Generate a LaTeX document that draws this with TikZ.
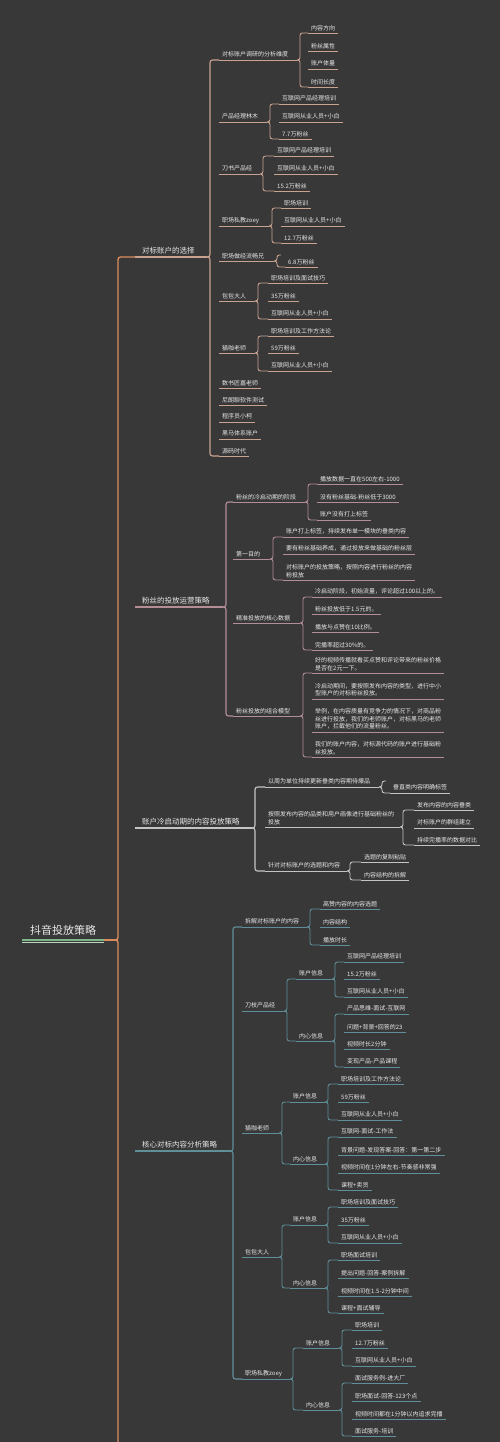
\documentclass[tikz,border=0pt]{standalone}
\usepackage{fontspec}
\newfontfamily\cjk{Noto Sans CJK SC}
\definecolor{bg}{HTML}{383838}
\definecolor{txt}{HTML}{E8E8E8}
\definecolor{cA}{HTML}{C9A290}
\definecolor{cB}{HTML}{B38E97}
\definecolor{cC}{HTML}{C4C4C4}
\definecolor{cD}{HTML}{5F8F99}
\definecolor{cM}{HTML}{D98B5E}
\definecolor{cR}{HTML}{7DB88A}
\tikzset{
 lf/.style={anchor=south west, inner xsep=3pt, inner ysep=2.3pt, text=txt, font=\cjk\fontsize{6}{7.8}\selectfont, align=left},
 topic/.style={lf, inner xsep=7pt, inner ysep=3pt, font=\cjk\fontsize{7.5}{9}\selectfont},
 rootnode/.style={lf, inner xsep=8pt, inner ysep=4pt, font=\cjk\fontsize{11}{13}\selectfont},
 ul/.style={draw=#1, line width=0.9pt},
 tul/.style={draw=#1, line width=2pt},
 br/.style={draw=#1, line width=0.9pt, rounded corners=2.5pt},
 emptyend/.style={inner sep=0pt, anchor=south west},
}
% leaf: [style]{name}{x}{y}{colour}{text}
\newcommand\T[6][lf]{\node[#1] (#2) at (#3,#4) {#6};\draw[ul=#5] (#2.south west) -- (#2.south east);}
% topic: {name}{x}{y}{colour}{text}
\newcommand\TT[5]{\node[topic] (#1) at (#2,#3) {#5};\draw[tul=#4] (#1.south west) -- (#1.south east);}
% brace: [extra]{colour}{xb}{ym}{parent}{first}{last}
\newcommand\B[7][]{%
 \draw[br=#2,#1] (#6.south west) -| (#3,#4) -- (#3-3,#4);
 \draw[br=#2,#1] (#7.south west) -| (#3,#4) -- (#3-3,#4);
 \draw[ul=#2,#1] (#5.south east) -- (#3-3,#4);}
\begin{document}
\begin{tikzpicture}[x=1pt,y=-1pt]
\fill[bg] (0,0) rectangle (500,1442);
\clip (0,0) rectangle (500,1442);

% ---------- root ----------
\node[rootnode] (root) at (22,940) {抖音投放策略};
\draw[draw=cR, line width=1.3pt] (root.south west) -- (root.south east);
\draw[draw=cR!55!white, line width=0.9pt] ([yshift=-2.5pt]root.south west) -- ([yshift=-2.5pt]root.south east);
\node[emptyend] (mbot) at (121,1480) {};

% ---------- branch 1 ----------
\TT{b1}{135}{257}{cA}{对标账户的选择}
\T{a1}{219}{60}{cA}{对标账户调研的分析维度}
\T{a1a}{308}{33}{cA}{内容方向}
\T{a1b}{308}{51}{cA}{粉丝属性}
\T{a1c}{308}{69}{cA}{账户体量}
\T{a1d}{308}{87}{cA}{时间长度}
\B{cA}{300}{60}{a1}{a1a}{a1d}
\T{a2}{219}{122}{cA}{产品经理林木}
\T{a2a}{279}{104}{cA}{互联网产品经理培训}
\T{a2b}{279}{122}{cA}{互联网从业人员+小白}
\T{a2c}{279}{139}{cA}{7.7万粉丝}
\B{cA}{270}{122}{a2}{a2a}{a2c}
\T{a3}{219}{174}{cA}{刀书产品经}
\T{a3a}{274}{156}{cA}{互联网产品经理培训}
\T{a3b}{274}{174}{cA}{互联网从业人员+小白}
\T{a3c}{274}{191}{cA}{15.2万粉丝}
\B{cA}{263}{174}{a3}{a3a}{a3c}
\T{a4}{219}{226}{cA}{职场私教zoey}
\T{a4a}{281}{208}{cA}{职场培训}
\T{a4b}{281}{226}{cA}{互联网从业人员+小白}
\T{a4c}{281}{243}{cA}{12.7万粉丝}
\B{cA}{272}{226}{a4}{a4a}{a4c}
\T{a5}{219}{261}{cA}{职场做经流畅兄}
\node[emptyend] (a5t) at (281,255) {};
\T{a5a}{285}{267}{cA}{6.8万粉丝}
\B{cA}{277}{261}{a5}{a5t}{a5a}
\T{a6}{219}{301}{cA}{包包大人}
\T{a6a}{268}{283}{cA}{职场培训及面试技巧}
\T{a6b}{268}{301}{cA}{35万粉丝}
\T{a6c}{268}{319}{cA}{互联网从业人员+小白}
\B{cA}{258}{301}{a6}{a6a}{a6c}
\T{a7}{219}{353}{cA}{猫咖老师}
\T{a7a}{268}{336}{cA}{职场培训及工作方法论}
\T{a7b}{268}{353}{cA}{59万粉丝}
\T{a7c}{268}{371}{cA}{互联网从业人员+小白}
\B{cA}{258}{353}{a7}{a7a}{a7c}
\T{a8}{219}{388}{cA}{数书匠嘉老师}
\T{a9}{219}{405}{cA}{尼朗聊软件测试}
\T{a10}{219}{422}{cA}{程序员小柯}
\T{a11}{219}{439}{cA}{黑马体系账户}
\T{a12}{219}{456}{cA}{源码时代}
\B[line width=1.1pt]{cA}{210}{257}{b1}{a1}{a12}

% ---------- branch 2 ----------
\TT{b2}{135}{607}{cB}{粉丝的投放运营策略}
\T{e1}{233}{502}{cB}{粉丝的冷启动期的阶段}
\T{e1a}{317}{484}{cB}{播放数据一直在500左右-1000}
\T{e1b}{317}{502}{cB}{没有粉丝基础-粉丝低于3000}
\T{e1c}{317}{520}{cB}{账户没有打上标签}
\B{cB}{308}{502}{e1}{e1a}{e1c}
\T{e2}{233}{559}{cB}{第一目的}
\T{e2a}{283}{537}{cB}{账户打上标签，持续发布单一模块的垂类内容}
\T{e2b}{283}{554}{cB}{要有粉丝基础养成，通过投放来做基础的粉丝层}
\T{e2c}{283}{580}{cB}{对标账户的投放策略，按照内容进行粉丝的内容\\粉投放}
\B{cB}{273}{559}{e2}{e2a}{e2c}
\T{e3}{233}{623}{cB}{精准投放的核心数据}
\T{e3a}{312}{597}{cB}{冷启动阶段，初始流量，评论超过100以上的。}
\T{e3b}{312}{614}{cB}{粉丝投放低于1.5元的。}
\T{e3c}{312}{632}{cB}{播放与点赞在10比例。}
\T{e3d}{312}{650}{cB}{完播率超过30\%的。}
\B{cB}{303}{623}{e3}{e3a}{e3d}
\T{e4}{233}{716}{cB}{粉丝投放的组合模型}
\T{e4a}{312}{673}{cB}{好的视频传播就看买点赞和评论带来的粉丝价格\\是否在2元一下。}
\T{e4b}{312}{699}{cB}{冷启动期间，要按照发布内容的类型，进行中小\\型账户的对标粉丝投放。}
\T{e4c}{312}{732}{cB}{举例，在内容质量有竞争力的情况下，对商品粉\\丝进行投放，我们的老师账户，对标黑马的老师\\账户，拦截他们的流量粉丝。}
\T{e4d}{312}{757}{cB}{我们的账户内容，对标源代码的账户进行基础粉\\丝投放。}
\B{cB}{303}{716}{e4}{e4a}{e4d}
\B[line width=1.1pt]{cB}{226}{607}{b2}{e1}{e4}

% ---------- branch 3 ----------
\TT{b3}{135}{828}{cC}{账户冷启动期的内容投放策略}
\T{f1}{265}{787}{cC}{以周为单位持续更新垂类内容期待爆品}
\node[emptyend] (f1t) at (386,781) {};
\T{f1a}{390}{793}{cC}{垂直类内容明确标签}
\B{cC}{382}{787}{f1}{f1t}{f1a}
\T{f2}{265}{827}{cC}{按照发布内容的品类和用户画像进行基础粉丝的\\投放}
\T{f2a}{414}{810}{cC}{发布内容的内容垂类}
\T{f2b}{414}{828}{cC}{对标账户的群组建立}
\T{f2c}{414}{845}{cC}{持续完播率的数据对比}
\B{cC}{403}{827}{f2}{f2a}{f2c}
\T{f3}{265}{871}{cC}{针对对标账户的选题和内容}
\T{f3a}{361}{862}{cC}{选题的复制粘贴}
\T{f3b}{361}{880}{cC}{内容结构的拆解}
\B{cC}{350}{871}{f3}{f3a}{f3b}
\B[line width=1.1pt]{cC}{255}{828}{b3}{f1}{f3}

% ---------- branch 4 ----------
\TT{b4}{135}{1151}{cD}{核心对标内容分析策略}
\T{g1}{242}{927}{cD}{拆解对标账户的内容}
\T{g1a}{320}{909}{cD}{高赞内容的内容选题}
\T{g1b}{320}{927}{cD}{内容结构}
\T{g1c}{320}{945}{cD}{播放时长}
\B{cD}{310}{927}{g1}{g1a}{g1c}
\T{g2}{242}{1011}{cD}{刀枝产品经}
\T{h1}{296}{979}{cD}{账户信息}
\T{h2}{296}{1041}{cD}{内心信息}
\B{cD}{287}{1011}{g2}{h1}{h2}
\T{h1a}{344}{962}{cD}{互联网产品经理培训}
\T{h1b}{344}{979}{cD}{15.2万粉丝}
\T{h1c}{344}{997}{cD}{互联网从业人员+小白}
\B{cD}{335}{979}{h1}{h1a}{h1c}
\T{h2a}{344}{1014}{cD}{产品思维-面试-互联网}
\T{h2b}{344}{1032}{cD}{问题+背景+回答的23}
\T{h2c}{344}{1049}{cD}{视频时长2分钟}
\T{h2d}{344}{1067}{cD}{变现产品-产品课程}
\B{cD}{335}{1041}{h2}{h2a}{h2d}
\T{g3}{242}{1133}{cD}{猫咖老师}
\T{i1}{290}{1102}{cD}{账户信息}
\T{i2}{290}{1164}{cD}{内心信息}
\B{cD}{282}{1133}{g3}{i1}{i2}
\T{i1a}{338}{1084}{cD}{职场培训及工作方法论}
\T{i1b}{338}{1102}{cD}{59万粉丝}
\T{i1c}{338}{1120}{cD}{互联网从业人员+小白}
\B{cD}{328}{1102}{i1}{i1a}{i1c}
\T{i2a}{338}{1137}{cD}{互联网-面试-工作法}
\T{i2b}{338}{1155}{cD}{背景问题-发现答案-回答：第一第二步}
\T{i2c}{338}{1173}{cD}{视频时间在1分钟左右-节奏感非常强}
\T{i2d}{338}{1190}{cD}{课程+卖货}
\B{cD}{328}{1164}{i2}{i2a}{i2d}
\T{g4}{242}{1257}{cD}{包包大人}
\T{j1}{290}{1225}{cD}{账户信息}
\T{j2}{290}{1288}{cD}{内心信息}
\B{cD}{282}{1257}{g4}{j1}{j2}
\T{j1a}{338}{1207}{cD}{职场培训及面试技巧}
\T{j1b}{338}{1225}{cD}{35万粉丝}
\T{j1c}{338}{1243}{cD}{互联网从业人员+小白}
\B{cD}{328}{1225}{j1}{j1a}{j1c}
\T{j2a}{338}{1260}{cD}{职场面试培训}
\T{j2b}{338}{1278}{cD}{提出问题-回答-案例拆解}
\T{j2c}{338}{1296}{cD}{视频时间在1.5-2分钟中间}
\T{j2d}{338}{1313}{cD}{课程+面试辅导}
\B{cD}{328}{1288}{j2}{j2a}{j2d}
\T{g5}{242}{1379}{cD}{职场私教zoey}
\T{k1}{303}{1348}{cD}{账户信息}
\T{k2}{303}{1410}{cD}{内心信息}
\B{cD}{293}{1379}{g5}{k1}{k2}
\T{k1a}{352}{1330}{cD}{职场培训}
\T{k1b}{352}{1348}{cD}{12.7万粉丝}
\T{k1c}{352}{1366}{cD}{互联网从业人员+小白}
\B{cD}{342}{1348}{k1}{k1a}{k1c}
\T{k2a}{352}{1383}{cD}{面试服务例-进大厂}
\T{k2b}{352}{1401}{cD}{职场面试-回答-123个点}
\T{k2c}{352}{1419}{cD}{视频时间都在1分钟以内追求完播}
\T{k2d}{352}{1436}{cD}{面试服务-培训}
\B{cD}{342}{1410}{k2}{k2a}{k2d}
\B[line width=1.1pt]{cD}{233}{1151}{b4}{g1}{g5}

% ---------- main brace ----------
\B[line width=1.4pt]{cM}{118}{940}{root}{b1}{mbot}
\end{tikzpicture}
\end{document}
